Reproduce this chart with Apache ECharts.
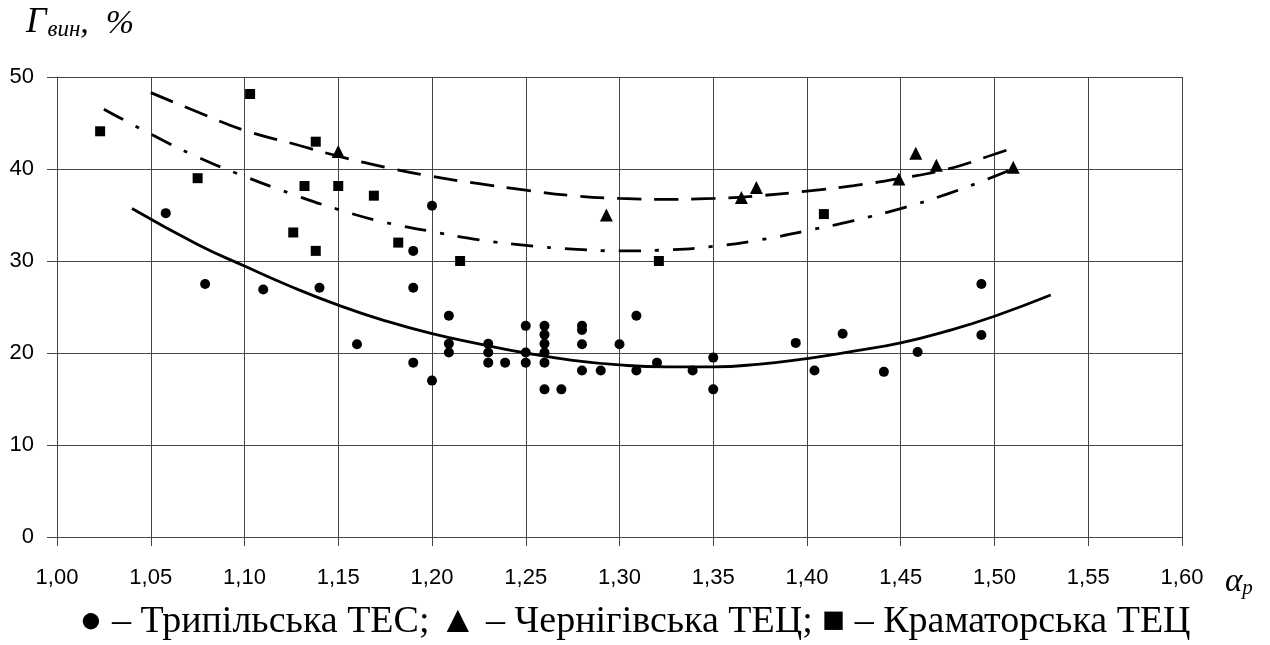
<!DOCTYPE html>
<html><head><meta charset="utf-8">
<script src="https://cdn.jsdelivr.net/npm/echarts@6/dist/echarts.min.js"></script>
<style>html,body{margin:0;padding:0;background:#fff}#c{width:1270px;height:645px}</style>
</head><body><div id="c"></div>
<script>
// Трипільська ТЕС (circles)
const tripilska = [
 [1.058,35.2],[1.079,27.5],[1.110,26.9],[1.140,27.1],[1.160,20.95],[1.190,31.1],[1.190,27.1],[1.190,18.95],
 [1.200,36.0],[1.200,17.0],[1.209,24.05],[1.209,21.0],[1.209,20.05],
 [1.230,21.0],[1.230,20.05],[1.230,18.95],[1.239,18.95],
 [1.250,22.95],[1.250,20.05],[1.250,18.95],
 [1.260,22.95],[1.260,22.0],[1.260,21.0],[1.260,20.05],[1.260,18.95],[1.260,16.05],
 [1.269,16.05],
 [1.280,22.95],[1.280,22.5],[1.280,20.95],[1.280,18.1],
 [1.290,18.1],[1.300,20.95],[1.309,24.05],[1.309,18.1],[1.320,18.95],
 [1.339,18.1],[1.350,19.5],[1.350,16.05],[1.394,21.1],[1.404,18.1],[1.419,22.1],
 [1.441,17.95],[1.459,20.1],[1.493,27.5],[1.493,21.95]
];
// Чернігівська ТЕЦ (triangles)
const chernihivska = [
 [1.150,41.9],[1.293,35.0],[1.365,36.9],[1.373,38.0],[1.449,38.9],[1.458,41.7],[1.469,40.4],[1.510,40.2]
];
// Краматорська ТЕЦ (squares)
const kramatorska = [
 [1.023,44.1],[1.075,39.0],[1.103,48.15],[1.126,33.1],[1.132,38.15],[1.138,42.97],[1.138,31.1],
 [1.150,38.15],[1.169,37.1],[1.182,32.0],[1.215,30.0],[1.321,30.0],[1.409,35.1]
];
// Trend curves
const trendSolid = [
 [1.040,35.7],[1.075,31.8],[1.10,29.45],[1.125,27.2],[1.15,25.2],[1.175,23.5],[1.20,22.1],[1.225,21.0],[1.25,20.0],
 [1.275,19.2],[1.30,18.7],[1.325,18.5],[1.35,18.5],[1.375,18.8],[1.40,19.4],[1.425,20.2],[1.45,21.1],
 [1.475,22.4],[1.50,24.0],[1.530,26.3]
];
const trendDashed = [
 [1.050,48.3],[1.075,46.2],[1.10,44.2],[1.125,42.8],[1.15,41.4],[1.175,40.2],[1.20,39.2],[1.225,38.4],[1.25,37.7],
 [1.275,37.1],[1.30,36.8],[1.325,36.7],[1.35,36.8],[1.375,37.1],[1.40,37.6],[1.425,38.2],[1.45,39.0],
 [1.475,40.0],[1.50,41.6],[1.510,42.3]
];
const trendDashDot = [
 [1.025,46.5],[1.05,43.8],[1.075,41.3],[1.10,39.2],[1.125,37.3],[1.15,35.6],[1.175,34.2],[1.20,33.2],[1.225,32.3],
 [1.25,31.7],[1.275,31.3],[1.30,31.1],[1.325,31.2],[1.35,31.6],[1.375,32.3],[1.40,33.3],[1.425,34.4],
 [1.45,35.7],[1.475,37.3],[1.50,39.2],[1.512,40.2]
];
const legendText = '● – Трипільська ТЕС; ▲ – Чернігівська ТЕЦ; ■ – Краматорська ТЕЦ';

const chart = echarts.init(document.getElementById('c'));
const lineStyleBase = {color:'#000', width:2.8};
const serif = '"Liberation Serif", "DejaVu Serif", serif';
chart.setOption({
  animation:false,
  grid:{left:57,right:88,top:77,bottom:108,containLabel:false},
  xAxis:{type:'value',min:1.0,max:1.6,interval:0.05,
    axisLine:{show:true,lineStyle:{color:'#444',width:1}},
    axisTick:{show:true,inside:false,length:9,lineStyle:{color:'#444'}},
    axisLabel:{margin:30,color:'#000',fontFamily:'Liberation Sans, Arial',fontSize:22,
      formatter:v=>v.toFixed(2).replace('.',',')},
    splitLine:{show:true,lineStyle:{color:'#444',width:1}}
  },
  yAxis:{type:'value',min:0,max:50,interval:10,
    axisLine:{show:true,lineStyle:{color:'#444',width:1}},
    axisTick:{show:true,inside:false,length:10,lineStyle:{color:'#444'}},
    axisLabel:{margin:23,color:'#000',fontFamily:'Liberation Sans, Arial',fontSize:22},
    splitLine:{show:true,lineStyle:{color:'#444',width:1}}
  },
  graphic:[
    {type:'text',left:26,top:5,style:{
      text:'{g|Γ}{s|вин}{c|,  %}',
      rich:{
        g:{fontFamily:serif,fontStyle:'italic',fontSize:36,fill:'#000',verticalAlign:'bottom'},
        s:{fontFamily:serif,fontStyle:'italic',fontSize:23,fill:'#000',padding:[10,0,0,1],verticalAlign:'bottom'},
        c:{fontFamily:serif,fontStyle:'italic',fontSize:34,fill:'#000',verticalAlign:'bottom'}
      }}},
    {type:'text',left:1225,top:566,style:{
      text:'{a|α}{p|p}',
      rich:{
        a:{fontFamily:serif,fontStyle:'italic',fontSize:33,fill:'#000',verticalAlign:'bottom'},
        p:{fontFamily:serif,fontStyle:'italic',fontSize:21,fill:'#000',padding:[10,0,0,0],verticalAlign:'bottom'}
      }}},
    {type:'text',left:'center',top:603,style:{text:legendText,
      font:'38px "Liberation Serif", "Times New Roman", serif',fill:'#000'}}
  ],
  series:[
    {type:'line',data:trendSolid,smooth:true,showSymbol:false,lineStyle:Object.assign({},lineStyleBase),z:2},
    {type:'line',data:trendDashed,smooth:true,showSymbol:false,lineStyle:Object.assign({},lineStyleBase,{type:[24,13]}),z:2},
    {type:'line',data:trendDashDot,smooth:true,showSymbol:false,lineStyle:Object.assign({},lineStyleBase,{type:[22,14,4,14]}),z:2},
    {type:'scatter',data:tripilska,symbol:'circle',symbolSize:10,itemStyle:{color:'#000',opacity:1},z:3},
    {type:'scatter',data:chernihivska,symbol:'triangle',symbolSize:13,itemStyle:{color:'#000',opacity:1},z:3},
    {type:'scatter',data:kramatorska,symbol:'rect',symbolSize:10,itemStyle:{color:'#000',opacity:1},z:3}
  ]
});
</script></body></html>
